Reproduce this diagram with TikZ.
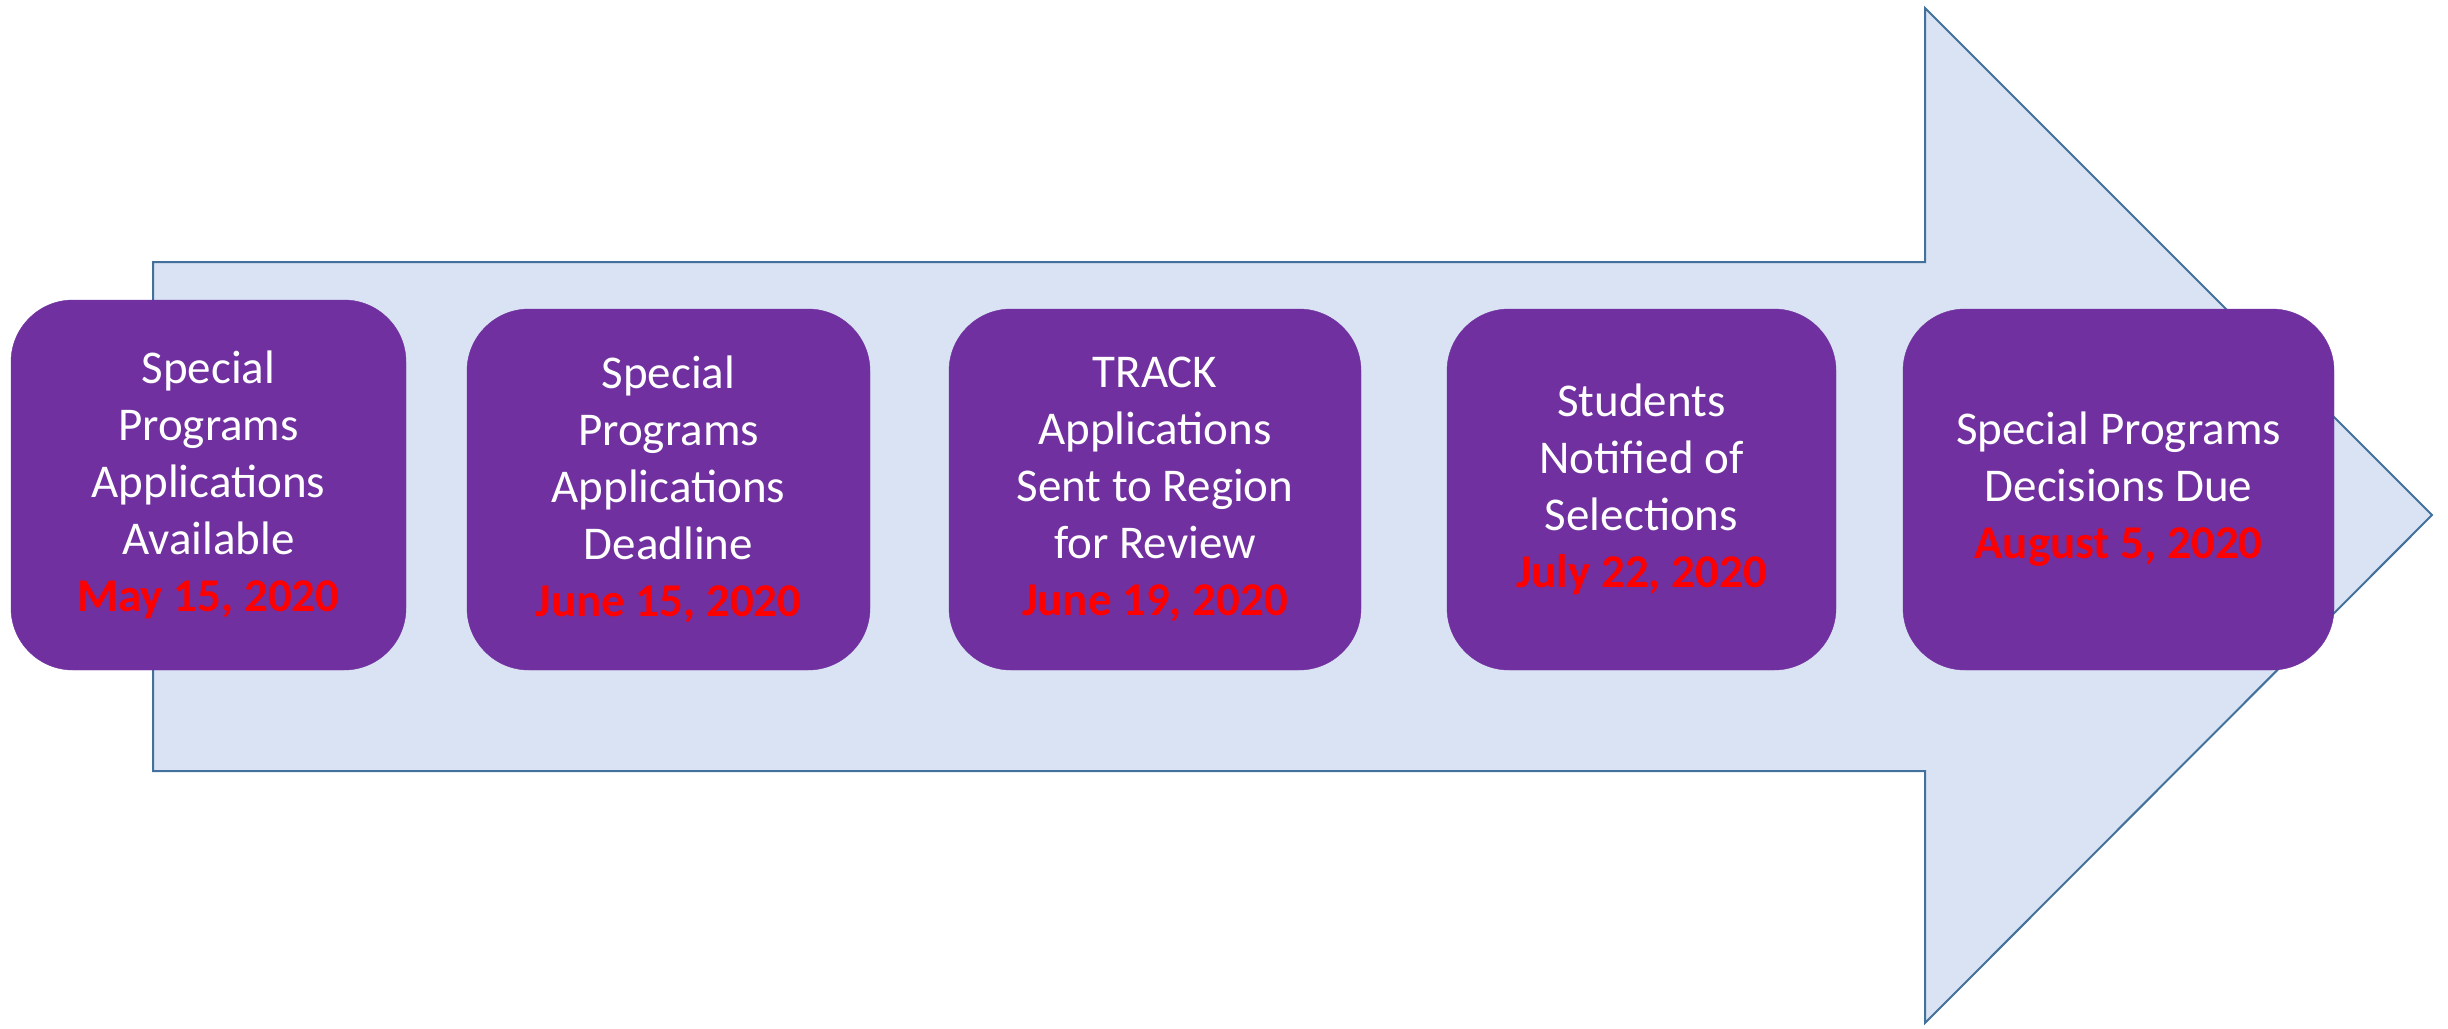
\documentclass[tikz,border=0pt]{standalone}
\usepackage{fontspec}
\setmainfont{Carlito}
\definecolor{stagepurple}{HTML}{7030A0}
\definecolor{datered}{HTML}{FF0000}
\definecolor{arrowfill}{HTML}{DAE3F3}
\definecolor{arrowedge}{HTML}{41719C}
\newcommand{\due}[1]{\textcolor{datered}{\bfseries #1}}
\begin{document}
\begin{tikzpicture}[x=1pt, y=-1pt,
    stage/.style={fill=stagepurple, draw=stagepurple, rounded corners=62pt,
        text=white, align=center, inner sep=0pt,
        font=\fontsize{47}{57}\selectfont},
    bigarrow/.style={fill=arrowfill, draw=arrowedge, line width=2pt, line join=miter}]
    \useasboundingbox (0,0) rectangle (2448,1028);
    % Background arrow
    \draw[bigarrow] (153,262) -- (1925,262) -- (1925,8) -- (2432,515)
        -- (1925,1023) -- (1925,771) -- (153,771) -- cycle;
    % Stages
    \node[stage, minimum width=395pt, minimum height=370pt] (avail) at (208.5,485)
        {Special\\Programs\\Applications\\Available\\\due{May 15, 2020}};
    \node[stage, minimum width=403pt, minimum height=361pt] (deadline) at (668.5,489.5)
        {Special\\Programs\\Applications\\Deadline\\\due{June 15, 2020}};
    \node[stage, minimum width=412pt, minimum height=361pt] (track) at (1155,489.5)
        {TRACK\\Applications\\Sent to Region\\for Review\\\due{June 19, 2020}};
    \node[stage, minimum width=389pt, minimum height=361pt] (notified) at (1641.5,489.5)
        {Students\\Notified of\\Selections\\\due{July 22, 2020}};
    \node[stage, minimum width=431pt, minimum height=361pt] (decisions) at (2118.5,489.5)
        {Special Programs\\Decisions Due\\\due{August 5, 2020}};
\end{tikzpicture}
\end{document}
